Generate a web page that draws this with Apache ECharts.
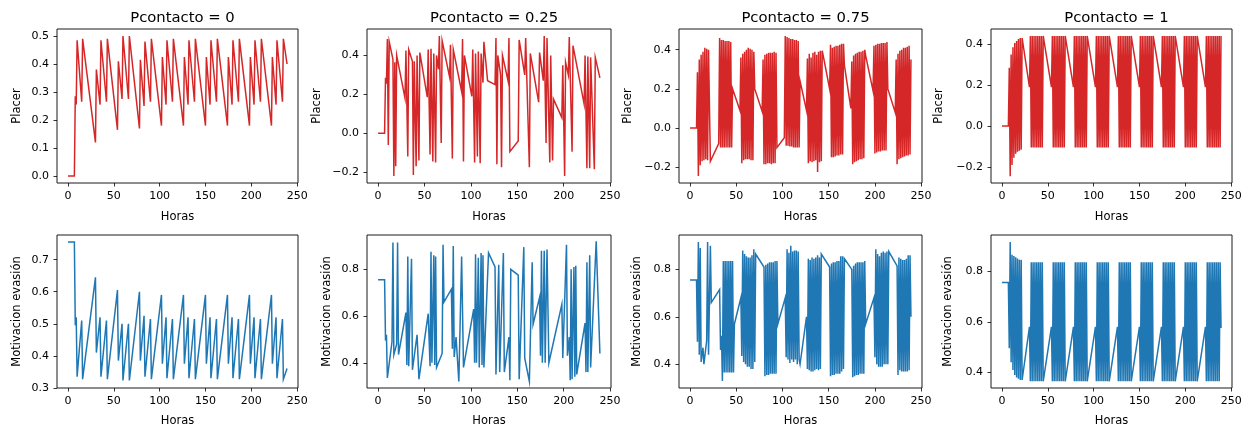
<!DOCTYPE html>
<html>
<head>
<meta charset="utf-8">
<script src="https://cdn.jsdelivr.net/npm/echarts@6/dist/echarts.min.js"></script>
<style>
html,body{margin:0;padding:0;background:#fff;}
#chart{width:1250px;height:428px;}
</style>
</head>
<body>
<div id="chart"></div>
<script>
// ---------- DATA (hour, value) ----------
const panelTitles = ['Pcontacto = 0', 'Pcontacto = 0.25', 'Pcontacto = 0.75', 'Pcontacto = 1'];
const xTicks = [0, 50, 100, 150, 200, 250];
const yTicksPlacer = [[0, 0.1, 0.2, 0.3, 0.4, 0.5], [-0.2, 0, 0.2, 0.4], [-0.2, 0, 0.2, 0.4], [-0.2, 0, 0.2, 0.4]];
const yTicksMotiv = [[0.3, 0.4, 0.5, 0.6, 0.7], [0.4, 0.6, 0.8], [0.4, 0.6, 0.8], [0.4, 0.6, 0.8]];

const placer0 = [[0,0],[7,0],[8,0.285],[9,0.255],[10,0.485],[15,0.265],[16,0.49],[30,0.12],[31,0.38],[35,0.255],[36,0.485],[42,0.265],[43,0.49],[54,0.165],[55,0.41],[59,0.275],[60,0.50],[66,0.275],[67,0.50],[78,0.17],[79,0.415],[83,0.25],[84,0.48],[90,0.265],[91,0.49],[102,0.18],[103,0.425],[107,0.255],[108,0.485],[114,0.265],[115,0.49],[126,0.18],[127,0.425],[131,0.255],[132,0.485],[138,0.265],[139,0.49],[150,0.18],[151,0.425],[155,0.255],[156,0.485],[162,0.265],[163,0.49],[174,0.18],[175,0.425],[179,0.255],[180,0.485],[186,0.265],[187,0.49],[198,0.18],[199,0.425],[203,0.255],[204,0.485],[210,0.265],[211,0.49],[222,0.18],[223,0.425],[227,0.255],[228,0.485],[234,0.265],[235,0.49],[239,0.40]];

const motiv0 = [[0,0.755],[7,0.755],[8,0.495],[9,0.52],[10,0.335],[15,0.51],[16,0.327],[30,0.645],[31,0.41],[35,0.52],[36,0.335],[42,0.51],[43,0.327],[54,0.605],[55,0.385],[59,0.50],[60,0.323],[66,0.50],[67,0.323],[78,0.60],[79,0.385],[83,0.525],[84,0.335],[90,0.515],[91,0.327],[102,0.59],[103,0.375],[107,0.52],[108,0.33],[114,0.515],[115,0.327],[126,0.59],[127,0.375],[131,0.52],[132,0.33],[138,0.515],[139,0.327],[150,0.59],[151,0.375],[155,0.52],[156,0.33],[162,0.515],[163,0.327],[174,0.59],[175,0.375],[179,0.52],[180,0.33],[186,0.515],[187,0.327],[198,0.59],[199,0.375],[203,0.52],[204,0.33],[210,0.515],[211,0.327],[222,0.59],[223,0.375],[227,0.52],[228,0.33],[234,0.515],[235,0.327],[239,0.36]];

const placer25 = [[0,0],[7,0],[8,0.285],[9,0.255],[10,0.485],[11,-0.06],[12,0.47],[16,0.38],[17,-0.22],[18,0.365],[19,-0.17],[20,0.40],[29,0.18],[30,0.425],[32,-0.12],[33,0.43],[37,0.37],[38,-0.215],[39,0.37],[41,-0.17],[42,0.40],[44,-0.14],[45,0.415],[53,0.185],[54,0.43],[56,-0.11],[57,0.435],[59,-0.145],[60,0.41],[62,-0.15],[63,0.40],[65,0.33],[66,0.50],[68,-0.05],[69,0.475],[77,0.29],[78,0.455],[80,-0.13],[81,0.43],[90,0.215],[91,0.485],[92,-0.145],[93,0.40],[101,0.19],[102,0.43],[104,-0.15],[105,0.41],[107,-0.12],[108,0.42],[110,-0.155],[111,0.41],[113,0.26],[114,0.47],[118,0.27],[126,0.25],[127,0.49],[128,-0.16],[129,0.40],[132,0.30],[133,-0.175],[134,0.40],[140,0.27],[141,0.49],[142,-0.095],[151,-0.04],[152,0.48],[158,0.30],[159,0.49],[163,-0.175],[164,0.41],[173,0.16],[174,0.415],[178,0.27],[179,0.50],[181,-0.05],[182,0.49],[185,-0.15],[186,0.40],[188,-0.14],[189,0.175],[198,0.08],[199,0.35],[201,-0.22],[202,0.365],[205,0.30],[206,0.495],[209,-0.095],[210,0.45],[222,0.15],[223,0.40],[225,-0.18],[226,0.395],[228,-0.18],[229,0.39],[233,-0.185],[234,0.39],[239,0.285]];

const motiv25 = [[0,0.755],[7,0.755],[8,0.495],[9,0.52],[10,0.335],[15,0.49],[16,0.915],[17,0.435],[20,0.48],[21,0.915],[22,0.435],[30,0.615],[31,0.39],[32,0.855],[33,0.385],[35,0.38],[36,0.845],[37,0.37],[42,0.52],[44,0.33],[54,0.61],[56,0.385],[57,0.875],[58,0.40],[60,0.86],[61,0.39],[62,0.855],[63,0.38],[69,0.44],[70,0.905],[71,0.66],[79,0.715],[80,0.46],[81,0.90],[82,0.425],[84,0.51],[87,0.32],[90,0.855],[92,0.38],[103,0.63],[104,0.40],[105,0.865],[106,0.40],[108,0.85],[109,0.38],[111,0.87],[112,0.39],[113,0.86],[114,0.38],[119,0.87],[126,0.81],[127,0.35],[130,0.82],[131,0.36],[135,0.87],[136,0.36],[141,0.51],[142,0.325],[143,0.80],[151,0.775],[152,0.33],[157,0.895],[158,0.42],[163,0.32],[166,0.83],[167,0.565],[174,0.68],[175,0.43],[176,0.88],[177,0.40],[179,0.88],[180,0.40],[182,0.885],[184,0.40],[198,0.65],[199,0.42],[203,0.905],[204,0.43],[206,0.51],[207,0.325],[208,0.80],[209,0.33],[211,0.81],[212,0.34],[213,0.815],[214,0.35],[223,0.57],[224,0.36],[225,0.83],[226,0.36],[228,0.86],[229,0.38],[235,0.92],[239,0.44]];

const placer75 = [[0,0],[7,0],[8,0.285],[9,-0.245],[10,0.35],[11,-0.19],[12,0.375],[13,-0.17],[14,0.39],[15,-0.165],[16,0.41],[17,-0.16],[18,0.405],[19,-0.165],[20,0.40],[22,-0.17],[31,-0.08],
[32,0.46],[33,-0.10],[34,0.45],[35,-0.10],[36,0.45],[37,-0.10],[38,0.445],[39,-0.10],[40,0.445],[41,-0.10],[42,0.445],[43,-0.10],[44,0.44],[45,-0.10],[46,0.20],[54,0.09],
[55,0.36],[56,-0.18],[57,0.38],[58,-0.165],[59,0.39],[60,-0.16],[61,0.40],[62,-0.16],[63,0.41],[64,-0.16],[65,0.405],[66,-0.165],[67,0.40],[68,-0.165],[69,0.39],[70,0.20],[78,0.085],
[79,0.35],[80,-0.185],[81,0.375],[82,-0.185],[83,0.38],[84,-0.18],[85,0.385],[86,-0.18],[87,0.385],[88,-0.185],[89,0.385],[90,-0.18],[91,0.39],[92,-0.18],[93,0.385],[94,-0.10],[102,-0.05],
[103,0.47],[104,-0.09],[105,0.465],[106,-0.09],[107,0.46],[108,-0.095],[109,0.455],[110,-0.095],[111,0.455],[112,-0.10],[113,0.45],[114,-0.10],[115,0.45],[116,-0.10],[117,0.445],[118,-0.10],[119,0.24],[126,0.09],
[127,0.355],[128,-0.18],[129,0.38],[130,-0.17],[131,0.36],[132,-0.175],[133,0.385],[134,-0.17],[135,0.39],[136,-0.165],[137,0.375],[138,-0.225],[139,0.39],[140,-0.175],[141,0.395],[142,-0.17],[143,0.395],[151,0.20],
[152,0.425],[153,-0.15],[154,0.41],[155,-0.15],[156,0.415],[157,-0.145],[158,0.42],[159,-0.14],[160,0.42],[161,-0.14],[162,0.425],[163,-0.135],[164,0.43],[165,-0.135],[166,0.43],[167,0.32],[174,0.10],
[175,0.34],[176,-0.185],[177,0.37],[178,-0.175],[179,0.38],[180,-0.17],[181,0.385],[182,-0.165],[183,0.39],[184,-0.16],[185,0.39],[186,-0.16],[187,0.395],[188,-0.155],[189,0.40],[190,0.37],[198,0.19],
[199,0.42],[200,-0.13],[201,0.425],[202,-0.125],[203,0.43],[204,-0.12],[205,0.43],[206,-0.12],[207,0.435],[208,-0.115],[209,0.435],[210,-0.115],[211,0.435],[212,-0.115],[213,0.44],[214,0.20],[222,0.08],
[223,0.35],[224,-0.185],[225,0.38],[226,-0.16],[227,0.395],[228,-0.155],[229,0.40],[230,-0.15],[231,0.41],[232,-0.145],[233,0.41],[234,-0.14],[235,0.415],[236,-0.14],[237,0.42],[238,-0.135],[239,0.35]];

const motiv75 = [[0,0.755],[7,0.755],[8,0.495],[9,0.915],[10,0.44],[11,0.89],[12,0.41],[14,0.47],[15,0.40],[18,0.50],[19,0.915],[20,0.44],[21,0.44],[22,0.90],[23,0.66],[32,0.715],[33,0.46],[34,0.52],[35,0.33],
[36,0.835],[37,0.365],[38,0.835],[39,0.365],[40,0.835],[41,0.365],[42,0.835],[43,0.365],[44,0.835],[45,0.365],[46,0.835],[47,0.365],[48,0.57],[55,0.68],
[56,0.435],[57,0.88],[58,0.41],[59,0.865],[60,0.40],[61,0.855],[62,0.39],[63,0.85],[64,0.39],[65,0.85],[66,0.38],[67,0.86],[68,0.38],[69,0.885],[70,0.41],[71,0.865],[80,0.81],
[81,0.35],[82,0.82],[83,0.355],[84,0.825],[85,0.355],[86,0.83],[87,0.36],[88,0.83],[89,0.36],[90,0.83],[91,0.36],[92,0.835],[93,0.36],[94,0.835],[95,0.57],[103,0.68],
[104,0.43],[105,0.885],[106,0.42],[107,0.87],[108,0.405],[109,0.90],[110,0.42],[111,0.875],[112,0.41],[113,0.88],[114,0.42],[115,0.88],[116,0.40],[117,0.875],[118,0.42],[119,0.40],[126,0.60],
[127,0.38],[128,0.845],[129,0.375],[130,0.84],[131,0.37],[132,0.85],[133,0.37],[134,0.845],[135,0.375],[136,0.85],[137,0.38],[138,0.86],[139,0.375],[140,0.85],[141,0.38],[142,0.865],[151,0.81],
[152,0.35],[153,0.825],[154,0.355],[155,0.83],[156,0.355],[157,0.83],[158,0.36],[159,0.835],[160,0.36],[161,0.835],[162,0.36],[163,0.855],[164,0.37],[165,0.855],[166,0.38],[167,0.845],[175,0.80],
[176,0.345],[177,0.815],[178,0.35],[179,0.825],[180,0.355],[181,0.83],[182,0.355],[183,0.83],[184,0.36],[185,0.83],[186,0.36],[187,0.83],[188,0.36],[189,0.835],[190,0.57],[199,0.68],
[200,0.43],[201,0.885],[202,0.40],[203,0.865],[204,0.39],[205,0.855],[206,0.39],[207,0.87],[208,0.39],[209,0.875],[210,0.40],[211,0.87],[212,0.40],[213,0.875],[214,0.40],[215,0.875],[224,0.815],
[225,0.355],[226,0.85],[227,0.375],[228,0.845],[229,0.37],[230,0.84],[231,0.37],[232,0.84],[233,0.37],[234,0.845],[235,0.37],[236,0.86],[237,0.375],[238,0.86],[239,0.60]];

const placer100 = [[0,0],[7,0],[8,0.285],[9,-0.245],[10,0.35],[11,-0.19],[12,0.385],[13,-0.155],[14,0.405],[15,-0.135],[16,0.415],[17,-0.125],[18,0.425],[19,-0.12],[20,0.43],[21,-0.115],[22,0.43],[30,0.19],
[31,0.44],[32,-0.105],[33,0.44],[34,-0.105],[35,0.44],[36,-0.105],[37,0.44],[38,-0.105],[39,0.44],[40,-0.105],[41,0.44],[42,-0.105],[43,0.44],[44,-0.105],[45,0.44],[54,0.19],
[55,0.44],[56,-0.105],[57,0.44],[58,-0.105],[59,0.44],[60,-0.105],[61,0.44],[62,-0.105],[63,0.44],[64,-0.105],[65,0.44],[66,-0.105],[67,0.44],[68,-0.105],[69,0.44],[78,0.19],
[79,0.44],[80,-0.105],[81,0.44],[82,-0.105],[83,0.44],[84,-0.105],[85,0.44],[86,-0.105],[87,0.44],[88,-0.105],[89,0.44],[90,-0.105],[91,0.44],[92,-0.105],[93,0.44],[102,0.19],
[103,0.44],[104,-0.105],[105,0.44],[106,-0.105],[107,0.44],[108,-0.105],[109,0.44],[110,-0.105],[111,0.44],[112,-0.105],[113,0.44],[114,-0.105],[115,0.44],[116,-0.105],[117,0.44],[126,0.19],
[127,0.44],[128,-0.105],[129,0.44],[130,-0.105],[131,0.44],[132,-0.105],[133,0.44],[134,-0.105],[135,0.44],[136,-0.105],[137,0.44],[138,-0.105],[139,0.44],[140,-0.105],[141,0.44],[150,0.19],
[151,0.44],[152,-0.105],[153,0.44],[154,-0.105],[155,0.44],[156,-0.105],[157,0.44],[158,-0.105],[159,0.44],[160,-0.105],[161,0.44],[162,-0.105],[163,0.44],[164,-0.105],[165,0.44],[174,0.19],
[175,0.44],[176,-0.105],[177,0.44],[178,-0.105],[179,0.44],[180,-0.105],[181,0.44],[182,-0.105],[183,0.44],[184,-0.105],[185,0.44],[186,-0.105],[187,0.44],[188,-0.105],[189,0.44],[198,0.19],
[199,0.44],[200,-0.105],[201,0.44],[202,-0.105],[203,0.44],[204,-0.105],[205,0.44],[206,-0.105],[207,0.44],[208,-0.105],[209,0.44],[210,-0.105],[211,0.44],[212,-0.105],[213,0.44],[222,0.19],
[223,0.44],[224,-0.105],[225,0.44],[226,-0.105],[227,0.44],[228,-0.105],[229,0.44],[230,-0.105],[231,0.44],[232,-0.105],[233,0.44],[234,-0.105],[235,0.44],[236,-0.105],[237,0.44],[238,-0.105],[239,0.44]];

const motiv100 = [[0,0.755],[7,0.755],[8,0.495],[9,0.915],[10,0.44],[11,0.865],[12,0.41],[13,0.86],[14,0.39],[15,0.855],[16,0.38],[17,0.85],[18,0.375],[19,0.845],[20,0.37],[21,0.845],[22,0.37],[30,0.58],
[31,0.365],[32,0.835],[33,0.365],[34,0.835],[35,0.365],[36,0.835],[37,0.365],[38,0.835],[39,0.365],[40,0.835],[41,0.365],[42,0.835],[43,0.365],[44,0.835],[45,0.365],[54,0.58],
[55,0.365],[56,0.835],[57,0.365],[58,0.835],[59,0.365],[60,0.835],[61,0.365],[62,0.835],[63,0.365],[64,0.835],[65,0.365],[66,0.835],[67,0.365],[68,0.835],[69,0.365],[78,0.58],
[79,0.365],[80,0.835],[81,0.365],[82,0.835],[83,0.365],[84,0.835],[85,0.365],[86,0.835],[87,0.365],[88,0.835],[89,0.365],[90,0.835],[91,0.365],[92,0.835],[93,0.365],[102,0.58],
[103,0.365],[104,0.835],[105,0.365],[106,0.835],[107,0.365],[108,0.835],[109,0.365],[110,0.835],[111,0.365],[112,0.835],[113,0.365],[114,0.835],[115,0.365],[116,0.835],[117,0.365],[126,0.58],
[127,0.365],[128,0.835],[129,0.365],[130,0.835],[131,0.365],[132,0.835],[133,0.365],[134,0.835],[135,0.365],[136,0.835],[137,0.365],[138,0.835],[139,0.365],[140,0.835],[141,0.365],[150,0.58],
[151,0.365],[152,0.835],[153,0.365],[154,0.835],[155,0.365],[156,0.835],[157,0.365],[158,0.835],[159,0.365],[160,0.835],[161,0.365],[162,0.835],[163,0.365],[164,0.835],[165,0.365],[174,0.58],
[175,0.365],[176,0.835],[177,0.365],[178,0.835],[179,0.365],[180,0.835],[181,0.365],[182,0.835],[183,0.365],[184,0.835],[185,0.365],[186,0.835],[187,0.365],[188,0.835],[189,0.365],[198,0.58],
[199,0.365],[200,0.835],[201,0.365],[202,0.835],[203,0.365],[204,0.835],[205,0.365],[206,0.835],[207,0.365],[208,0.835],[209,0.365],[210,0.835],[211,0.365],[212,0.835],[213,0.365],[222,0.58],
[223,0.365],[224,0.835],[225,0.365],[226,0.835],[227,0.365],[228,0.835],[229,0.365],[230,0.835],[231,0.365],[232,0.835],[233,0.365],[234,0.835],[235,0.365],[236,0.835],[237,0.365],[238,0.835],[239,0.575]];

const placerSeries = [placer0, placer25, placer75, placer100];
const motivSeries = [motiv0, motiv25, motiv75, motiv100];

// ---------- LAYOUT ----------
const FONT = 'DejaVu Sans';
const RED = '#d62728', BLUE = '#1f77b4';
const cols = [
  {left: 57, width: 241}, {left: 367, width: 244}, {left: 679, width: 243}, {left: 991, width: 241}
];
const rowTop = {placer: 29, motiv: 235};
const rowH = {placer: 154, motiv: 155};
const yRangePlacer = [[-0.025, 0.525], [-0.256, 0.536], [-0.281, 0.506], [-0.278, 0.474]];
const yRangeMotiv = [[0.2995, 0.777], [0.292, 0.947], [0.30, 0.945], [0.3385, 0.9425]];
const yNameGapPlacer = [34, 44, 45, 46];
const yNameGapMotiv = [34, 34, 36, 37];

function fmt(v) {
  let s = (Math.abs(v) < 1e-9 ? 0 : v).toFixed(1);
  return s.replace('-', '\u2212');
}

const grids = [], xAxes = [], yAxes = [], series = [], titles = [];
let gi = 0;
['placer', 'motiv'].forEach((row) => {
  for (let c = 0; c < 4; c++) {
    grids.push({left: cols[c].left, top: rowTop[row], width: cols[c].width, height: rowH[row],
      show: true, borderColor: '#1a1a1a', borderWidth: 1, backgroundColor: 'transparent'});
    xAxes.push({
      gridIndex: gi, type: 'value', min: -11.95, max: 250.95, position: 'bottom',
      name: 'Horas', nameLocation: 'middle', nameGap: row === 'placer' ? 28 : 27,
      nameTextStyle: {fontFamily: FONT, fontSize: 11.5, color: '#000'},
      axisLine: {show: false, onZero: false},
      splitLine: {show: false},
      axisTick: {show: true, inside: false, customValues: xTicks, length: 3.5, lineStyle: {color: '#000', width: 0.8}},
      axisLabel: {show: true, customValues: xTicks, margin: 8, fontFamily: FONT, fontSize: 11, color: '#000',
        formatter: (v) => String(Math.round(v))}
    });
    const rng = row === 'placer' ? yRangePlacer[c] : yRangeMotiv[c];
    const ticks = row === 'placer' ? yTicksPlacer[c] : yTicksMotiv[c];
    yAxes.push({
      gridIndex: gi, type: 'value', min: rng[0], max: rng[1], position: 'left',
      name: row === 'placer' ? 'Placer' : 'Motivacion evasión',
      nameLocation: 'middle', nameGap: row === 'placer' ? yNameGapPlacer[c] : yNameGapMotiv[c],
      nameTextStyle: {fontFamily: FONT, fontSize: 11.5, color: '#000'},
      axisLine: {show: false, onZero: false},
      splitLine: {show: false},
      axisTick: {show: true, inside: false, customValues: ticks, length: 3.5, lineStyle: {color: '#000', width: 0.8}},
      axisLabel: {show: true, customValues: ticks, margin: 8, fontFamily: FONT, fontSize: 11, color: '#000',
        formatter: fmt}
    });
    series.push({
      type: 'line', xAxisIndex: gi, yAxisIndex: gi,
      data: row === 'placer' ? placerSeries[c] : motivSeries[c],
      showSymbol: false, symbol: 'none', animation: false,
      lineStyle: {color: row === 'placer' ? RED : BLUE, width: 1.5, join: 'miter'},
      itemStyle: {color: row === 'placer' ? RED : BLUE}
    });
    if (row === 'placer') {
      titles.push({text: panelTitles[c], left: cols[c].left + cols[c].width / 2, top: 6, textAlign: 'center',
        textStyle: {fontFamily: FONT, fontSize: 14.8, fontWeight: 'normal', color: '#000'}});
    }
    gi++;
  }
});

const chart = echarts.init(document.getElementById('chart'), null, {renderer: 'canvas'});
chart.setOption({
  animation: false,
  backgroundColor: '#fff',
  title: titles,
  grid: grids,
  xAxis: xAxes,
  yAxis: yAxes,
  series: series
});
</script>
</body>
</html>
